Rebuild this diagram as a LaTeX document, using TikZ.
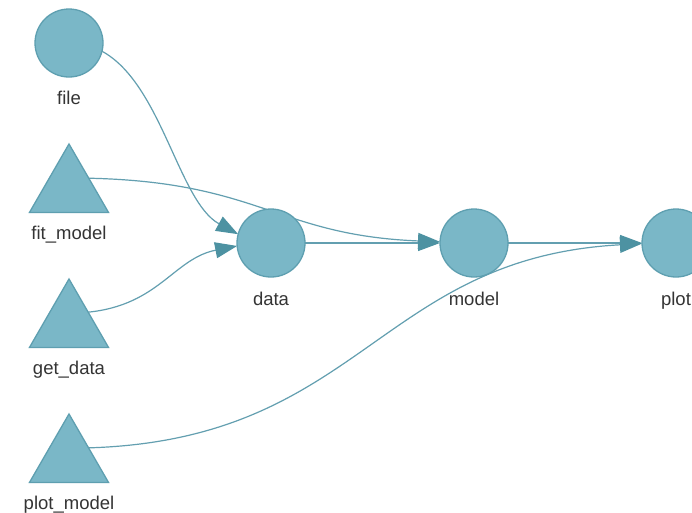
\documentclass[tikz,border=0pt]{standalone}
\usepackage{fontspec}
\setmainfont{Liberation Sans}
\usetikzlibrary{arrows.meta,shapes.geometric,backgrounds}
\definecolor{nodefill}{HTML}{7AB7C7}
\definecolor{nodeborder}{HTML}{5E9FB0}
\definecolor{edgec}{HTML}{639FB0}
\definecolor{arrowc}{HTML}{4D92A2}
\definecolor{labelc}{HTML}{343434}
\begin{document}
\begin{tikzpicture}[x=1pt,y=-1pt,
  circ/.style={circle,draw=nodeborder,fill=nodefill,line width=1.3pt,minimum size=68pt,inner sep=0pt,outer sep=0pt},
  tri/.style={regular polygon,regular polygon sides=3,draw=nodeborder,fill=nodefill,line width=1.3pt,minimum size=91.2pt,inner sep=0pt,outer sep=0pt},
  lab/.style={text=labelc,font=\fontsize{18.5}{22}\selectfont,inner sep=0pt,anchor=base},
  edge/.style={draw=edgec,line width=1.2pt,-{Triangle[length=22pt,width=16pt,color=arrowc]}}]
\useasboundingbox (0,0) rectangle (692,512);
\clip (0,0) rectangle (692,512);
% nodes
\node[circ] (file) at (69,43) {};
\node[tri] (fitmodel) at (69,189.6) {};
\node[tri] (getdata) at (69,324.6) {};
\node[tri] (plotmodel) at (69,459.6) {};
\node[circ] (data) at (271,243) {};
\node[circ] (model) at (474,243) {};
\node[circ] (plot) at (676,243) {};
% labels
\node[lab] (lfile) at (69,104.5) {file};
\node[lab] (lfitmodel) at (69,239.5) {fit\_model};
\node[lab] (lgetdata) at (69,374.5) {get\_data};
\node[lab] (lplotmodel) at (69,509.5) {plot\_model};
\node[lab] (ldata) at (271,305) {data};
\node[lab] (lmodel) at (474,305) {model};
\node[lab] (lplot) at (676,305) {plot};
% edges
\begin{pgfonlayer}{background}
\fill[white] (0,0) rectangle (692,512);
\draw[edge] (file.-14.1) .. controls +(59.71,32.52) and +(-59.71,-32.52) .. (data.165.9);
\draw[edge] (fitmodel.30.2) .. controls +(171.9,3.81) and +(-163.2,-6.59) .. (model.178.9);
\draw[edge] (getdata.33.1) .. controls +(71.05,-7.14) and +(-63.37,12.46) .. (data.185.2);
\draw[edge] (plotmodel.31.6) .. controls +(273.0,-8.18) and +(-263.9,14.37) .. (plot.181.5);
\draw[edge] (data) -- (model);
\draw[edge] (model) -- (plot);
\end{pgfonlayer}
\end{tikzpicture}
\end{document}
